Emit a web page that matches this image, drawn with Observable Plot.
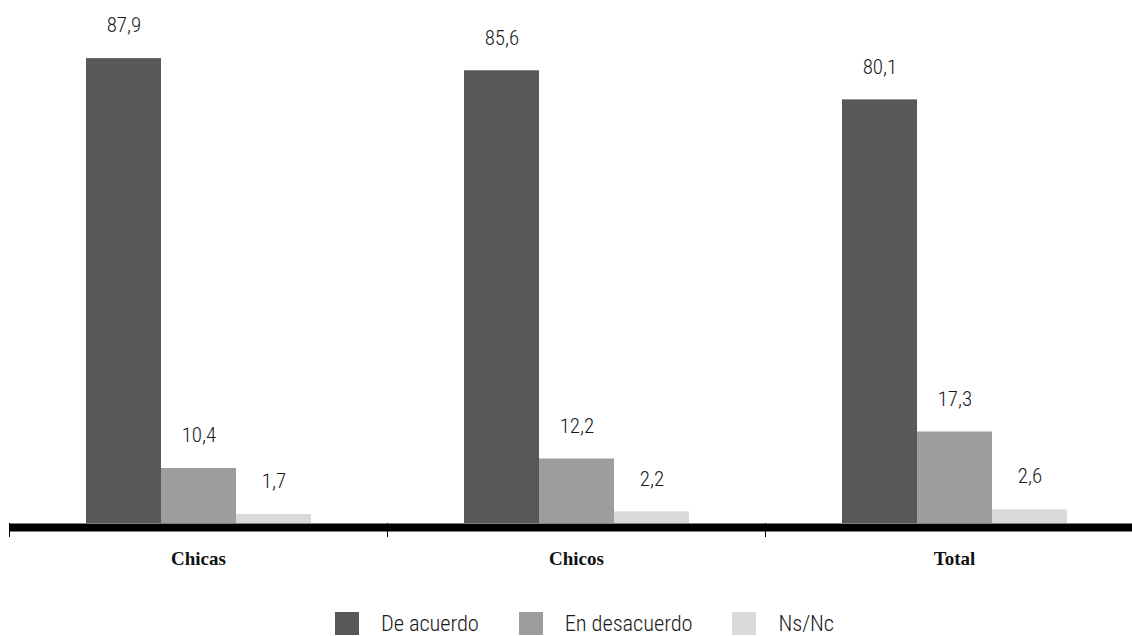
<!DOCTYPE html>
<html>
<head>
<meta charset="utf-8">
<script src="https://cdn.jsdelivr.net/npm/d3@7"></script>
<script src="https://cdn.jsdelivr.net/npm/@observablehq/plot@0.6"></script>
<style>
  body { margin: 0; background: #fff; }
  #legend { display: flex; align-items: flex-start; padding-left: 335px; height: 36px; padding-top: 11px; box-sizing: border-box;
    font-family: "Liberation Sans Narrow", "Roboto Condensed", Roboto, sans-serif; font-size: 22.5px; font-weight: 300;
    letter-spacing: -0.1px; color: #1a1a1a; }
  .sw { width: 24px; height: 23px; margin-right: 22px; margin-top: 1px; }
  .it { display: flex; align-items: flex-start; margin-right: 40px; line-height: 25px; }
</style>
</head>
<body>
<div id="chart"></div>
<div id="legend"></div>
<script>
const categories = ["Chicas", "Chicos", "Total"];
const series = ["De acuerdo", "En desacuerdo", "Ns/Nc"];
const deAcuerdo = [87.9, 85.6, 80.1];
const enDesacuerdo = [10.4, 12.2, 17.3];
const nsnc = [1.7, 2.2, 2.6];
const colors = ["#58585a", "#9d9d9f", "#d9d9db"];

const valuesBySeries = [deAcuerdo, enDesacuerdo, nsnc];
const data = categories.flatMap((c, i) => series.map((s, j) => ({cat: c, serie: s, value: valuesBySeries[j][i]})));

const labelFont = '"Liberation Sans Narrow", "Roboto Condensed", Roboto, sans-serif';

const chart = Plot.plot({
  width: 1132, height: 600,
  marginLeft: 9, marginRight: -11, marginTop: 47, marginBottom: 77,
  fx: {domain: categories, padding: 0, label: null},
  x: {domain: series, paddingInner: 0, paddingOuter: 1, axis: null},
  y: {domain: [0, 90], axis: null},
  color: {domain: series, range: colors},
  style: {fontFamily: labelFont},
  marks: [
    Plot.barY(data, {fx: "cat", x: "serie", y: "value", fill: "serie"}),
    Plot.text(data, {fx: "cat", x: "serie", y: "value", text: d => d.value.toFixed(1).replace(".", ","),
      dy: -33, fontSize: 21, fontWeight: 300, fontFamily: labelFont, fill: "#1a1a1a",
      letterSpacing: "-0.6px"}),
    Plot.ruleY([0], {stroke: "black", strokeWidth: 8, dy: 4}),
    Plot.axisFx({anchor: "bottom", tickSize: 14, dx: -189, tickFormat: () => "", label: null, stroke: "black"}),
    Plot.axisFx({anchor: "bottom", tickSize: 0, tickPadding: 28, fontSize: 19, fontWeight: "bold",
      fontFamily: '"Liberation Serif", "Times New Roman", serif', label: null, fill: "#111"})
  ]
});
document.getElementById("chart").appendChild(chart);

const legend = document.getElementById("legend");
series.forEach((s, i) => {
  const it = document.createElement("div");
  it.className = "it";
  const sw = document.createElement("div");
  sw.className = "sw";
  sw.style.background = colors[i];
  const t = document.createElement("span");
  t.textContent = s;
  it.appendChild(sw); it.appendChild(t);
  legend.appendChild(it);
});
</script>
</body>
</html>
